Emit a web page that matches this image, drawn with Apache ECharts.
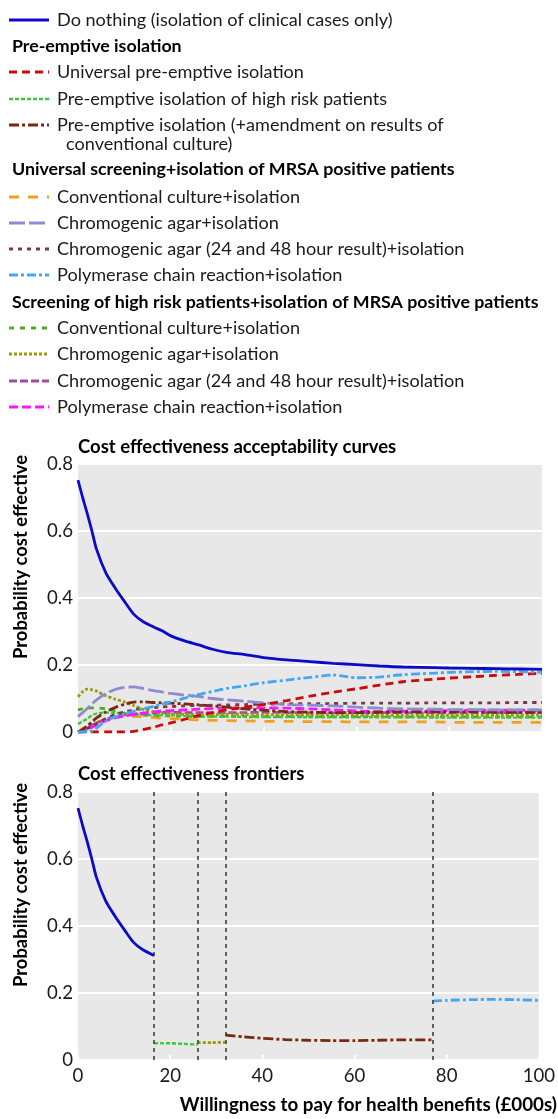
<!DOCTYPE html>
<html><head><meta charset="utf-8">
<script src="https://cdn.jsdelivr.net/npm/echarts@6.0.0/dist/echarts.min.js"></script>
<style>html,body{margin:0;padding:0;background:#fff}#c{width:558px;height:1119px}</style>
</head><body><div id="c"></div>
<script>
// Willingness to pay (£000s)
const wtp = [0,1,2,3,4,6,8,10,12,14,16.5,18,20,23,26,29,32,36,40,45,50,55,60,65,70,77,80,85,90,95,100];

const doNothing       = [0.752,0.70,0.652,0.60,0.545,0.475,0.43,0.39,0.352,0.33,0.312,0.303,0.287,0.272,0.26,0.247,0.238,0.231,0.222,0.215,0.21,0.205,0.201,0.197,0.194,0.192,0.191,0.19,0.189,0.188,0.187];
const univPreempt     = [0,0,0,0,0,0,0,0,0.002,0.007,0.015,0.021,0.027,0.038,0.049,0.058,0.066,0.074,0.082,0.094,0.107,0.119,0.129,0.14,0.15,0.158,0.161,0.165,0.169,0.172,0.175];
const highRiskPreempt = [0.024,0.032,0.04,0.05,0.055,0.058,0.057,0.055,0.053,0.052,0.05,0.05,0.05,0.048,0.046,0.046,0.046,0.045,0.045,0.045,0.044,0.044,0.044,0.044,0.044,0.043,0.043,0.043,0.043,0.043,0.043];
const amendPreempt    = [0,0.008,0.018,0.03,0.042,0.06,0.073,0.083,0.089,0.09,0.088,0.087,0.086,0.084,0.081,0.078,0.074,0.069,0.065,0.061,0.059,0.058,0.058,0.059,0.06,0.06,0.06,0.06,0.059,0.059,0.059];
const univConv        = [0,0.01,0.017,0.024,0.029,0.038,0.045,0.047,0.047,0.046,0.043,0.041,0.04,0.038,0.036,0.035,0.034,0.033,0.032,0.032,0.031,0.031,0.03,0.03,0.03,0.03,0.029,0.029,0.029,0.029,0.029];
const univChromo      = [0.046,0.058,0.07,0.084,0.096,0.114,0.127,0.133,0.135,0.13,0.123,0.12,0.115,0.11,0.106,0.1,0.096,0.092,0.087,0.082,0.08,0.078,0.074,0.071,0.069,0.068,0.067,0.067,0.066,0.066,0.066];
const univChromo2448  = [0,0.004,0.01,0.017,0.025,0.04,0.052,0.06,0.066,0.07,0.073,0.075,0.076,0.078,0.079,0.08,0.081,0.082,0.083,0.084,0.085,0.085,0.086,0.086,0.086,0.087,0.087,0.087,0.087,0.088,0.088];
const univPCR         = [0,0,0,0.003,0.012,0.033,0.045,0.054,0.062,0.069,0.077,0.083,0.09,0.101,0.112,0.121,0.13,0.138,0.147,0.155,0.163,0.17,0.162,0.164,0.171,0.176,0.178,0.18,0.181,0.18,0.178];
const hrConv          = [0.066,0.069,0.071,0.072,0.072,0.069,0.063,0.056,0.052,0.05,0.049,0.048,0.048,0.047,0.047,0.047,0.047,0.047,0.046,0.046,0.046,0.046,0.046,0.046,0.045,0.045,0.045,0.045,0.045,0.045,0.045];
const hrChromo        = [0.105,0.12,0.128,0.126,0.122,0.108,0.098,0.09,0.079,0.068,0.06,0.056,0.054,0.053,0.052,0.052,0.053,0.053,0.052,0.052,0.051,0.051,0.05,0.05,0.05,0.05,0.05,0.05,0.05,0.05,0.05];
const hrChromo2448    = [0,0.005,0.012,0.02,0.027,0.038,0.046,0.051,0.054,0.056,0.057,0.058,0.059,0.058,0.058,0.057,0.058,0.058,0.059,0.058,0.057,0.057,0.058,0.058,0.058,0.057,0.057,0.058,0.058,0.058,0.058];
const hrPCR           = [0,0,0.006,0.014,0.022,0.034,0.042,0.048,0.052,0.056,0.06,0.062,0.064,0.066,0.068,0.07,0.071,0.072,0.072,0.071,0.069,0.066,0.063,0.061,0.062,0.063,0.064,0.065,0.065,0.065,0.065];

// frontier: optimal strategy between successive thresholds
const frontierCuts = [0, 16.5, 26, 32, 77, 100];
const frontierKeys = ['doNothing','highRiskPreempt','hrChromo','amendPreempt','univPCR'];

const yTicks = [0, 0.2, 0.4, 0.6, 0.8];
const xTicks = [0, 20, 40, 60, 80, 100];

const S = {
  doNothing:      {name:'Do nothing (isolation of clinical cases only)', data:doNothing, color:'#0a0ac8', dash:'solid', w:2.8},
  univPreempt:    {name:'Universal pre-emptive isolation', data:univPreempt, color:'#cc0a0a', dash:[8,5], w:2.8},
  highRiskPreempt:{name:'Pre-emptive isolation of high risk patients', data:highRiskPreempt, color:'#3cc83c', dash:[4,2], w:2.4},
  amendPreempt:   {name:'Pre-emptive isolation (+amendment on results of', data:amendPreempt, color:'#7a2a0c', dash:[10,3,3,3], w:2.8},
  univConv:       {name:'Conventional culture+isolation', data:univConv, color:'#f0a01e', dash:[10,9], w:2.8},
  univChromo:     {name:'Chromogenic agar+isolation', data:univChromo, color:'#8c8cd2', dash:[16,4], w:2.8},
  univChromo2448: {name:'Chromogenic agar (24 and 48 hour result)+isolation', data:univChromo2448, color:'#7a3a3e', dash:[4,5], w:2.8},
  univPCR:        {name:'Polymerase chain reaction+isolation', data:univPCR, color:'#46a6f2', dash:[9,3,3,3], w:2.8},
  hrConv:         {name:'Conventional culture+isolation', data:hrConv, color:'#52a81e', dash:[5,6], w:2.8},
  hrChromo:       {name:'Chromogenic agar+isolation', data:hrChromo, color:'#9a9a0e', dash:[3,2], w:2.8},
  hrChromo2448:   {name:'Chromogenic agar (24 and 48 hour result)+isolation', data:hrChromo2448, color:'#a24aa6', dash:[8,3], w:2.8},
  hrPCR:          {name:'Polymerase chain reaction+isolation', data:hrPCR, color:'#ff14ff', dash:[9,4], w:2.8}
};

const drawOrder = ['univConv','hrConv','highRiskPreempt','hrChromo2448','hrChromo','hrPCR','amendPreempt','univChromo2448','univChromo','univPreempt','univPCR','doNothing'];

const pairs = (vals, a, b) => wtp.map((x,i)=>[x, vals[i]]).filter(p => (a===undefined || (p[0] >= a && p[0] <= b)));

const series = [];
drawOrder.forEach(k => {
  const s = S[k];
  series.push({type:'line', xAxisIndex:0, yAxisIndex:0, data:pairs(s.data), showSymbol:false, symbol:'none', smooth:0.25,
    lineStyle:{color:s.color, width:s.w, type:s.dash, cap:'butt'}, silent:true, z:3});
});
frontierKeys.forEach((k, i) => {
  const s = S[k];
  series.push({type:'line', xAxisIndex:1, yAxisIndex:1, data:pairs(s.data, frontierCuts[i], frontierCuts[i+1]), showSymbol:false, symbol:'none', smooth:0.25,
    lineStyle:{color:s.color, width:s.w, type:s.dash, cap:'butt'}, silent:true, z:3});
});
series.push({type:'line', xAxisIndex:1, yAxisIndex:1, data:[], silent:true,
  markLine:{silent:true, symbol:['none','none'], label:{show:false},
    lineStyle:{color:'#333', width:1.5, type:[4,4]},
    data:frontierCuts.slice(1,-1).map(v=>({xAxis:v}))}});

const FONT = 'Lato';
const TXT = '#1a1a1a';

// pick font sizes so that text widths match the reference
const mctx = document.createElement('canvas').getContext('2d');
function fit(text, weight, target){
  mctx.font = weight + ' 100px ' + FONT;
  return Math.round(100 * target / mctx.measureText(text).width * 10) / 10;
}
const legSize   = fit('Do nothing (isolation of clinical cases only)', 'normal', 336);
const headSize  = fit('Screening of high risk patients+isolation of MRSA positive patients', 'bold', 528);
const titleSize = fit('Cost effectiveness frontiers', 'bold', 226);
const yTitleSize= fit('Probability cost effective', 'bold', 204);
const xTitleSize= fit('Willingness to pay for health benefits (£000s)', 'bold', 377);
const tickSize  = fit('0.8', 'normal', 26);

const grids = [
  {left:78, right:16, top:464, height:268, show:true, backgroundColor:'#e8e8e8', borderWidth:0},
  {left:78, right:16, top:792, height:268, show:true, backgroundColor:'#e8e8e8', borderWidth:0}
];
const mkX = (gi, labels) => ({type:'value', gridIndex:gi, min:xTicks[0], max:xTicks[xTicks.length-1], interval:20,
  axisLine:{show:false}, splitLine:{show:false},
  axisTick:{show:true, inside:true, length:5, lineStyle:{color:'#fff', width:2}},
  axisLabel:{show:labels, fontFamily:FONT, fontSize:tickSize, color:TXT, margin:6}});
const mkY = (gi) => ({type:'value', gridIndex:gi, min:yTicks[0], max:yTicks[yTicks.length-1], interval:0.2,
  axisLine:{show:false}, axisTick:{show:false},
  splitLine:{show:true, lineStyle:{color:'#fff', width:2}},
  axisLabel:{fontFamily:FONT, fontSize:tickSize, color:TXT, margin:5, formatter:v => v===0 ? '0' : v.toFixed(1)}});

// legend layout
const graphic = [];
const lineX1 = 9, lineX2 = 49, textX = 57;
const LEG_FONT = legSize + 'px ' + FONT;
const HEAD_FONT = 'bold ' + headSize + 'px ' + FONT;
function item(key, y, text){
  const s = S[key];
  graphic.push({type:'line', shape:{x1:lineX1, y1:y, x2:lineX2, y2:y}, style:{stroke:s.color, lineWidth:s.w, lineDash:s.dash==='solid'?null:s.dash}, silent:true});
  graphic.push({type:'text', x:textX, y:y, style:{text:text||s.name, font:LEG_FONT, fill:TXT, verticalAlign:'middle'}, silent:true});
}
function head(text, y){
  graphic.push({type:'text', x:12, y:y, style:{text, font:HEAD_FONT, fill:'#000', verticalAlign:'middle'}, silent:true});
}
item('doNothing', 20);
head('Pre-emptive isolation', 46);
item('univPreempt', 72);
item('highRiskPreempt', 99);
item('amendPreempt', 125);
graphic.push({type:'text', x:66, y:144, style:{text:'conventional culture)', font:LEG_FONT, fill:TXT, verticalAlign:'middle'}, silent:true});
head('Universal screening+isolation of MRSA positive patients', 169);
item('univConv', 197);
item('univChromo', 223);
item('univChromo2448', 249);
item('univPCR', 275);
head('Screening of high risk patients+isolation of MRSA positive patients', 302);
item('hrConv', 328);
item('hrChromo', 354);
item('hrChromo2448', 381);
item('hrPCR', 407);

const TITLE_FONT = 'bold ' + titleSize + 'px ' + FONT;
const YT_FONT = 'bold ' + yTitleSize + 'px ' + FONT;
graphic.push({type:'text', x:78, y:447, style:{text:'Cost effectiveness acceptability curves', font:TITLE_FONT, fill:'#000', verticalAlign:'middle'}, silent:true});
graphic.push({type:'text', x:78, y:774, style:{text:'Cost effectiveness frontiers', font:TITLE_FONT, fill:'#000', verticalAlign:'middle'}, silent:true});
graphic.push({type:'text', x:21, y:557, rotation:Math.PI/2, style:{text:'Probability cost effective', font:YT_FONT, fill:'#000', align:'center', verticalAlign:'middle'}, silent:true});
graphic.push({type:'text', x:21, y:885, rotation:Math.PI/2, style:{text:'Probability cost effective', font:YT_FONT, fill:'#000', align:'center', verticalAlign:'middle'}, silent:true});
graphic.push({type:'text', x:557, y:1105, style:{text:'Willingness to pay for health benefits (£000s)', font:'bold ' + xTitleSize + 'px ' + FONT, fill:'#000', align:'right', verticalAlign:'middle'}, silent:true});

const chart = echarts.init(document.getElementById('c'), null, {renderer:'canvas'});
chart.setOption({
  animation:false,
  backgroundColor:'#fff',
  grid:grids,
  xAxis:[mkX(0,false), mkX(1,true)],
  yAxis:[mkY(0), mkY(1)],
  series,
  graphic
});
</script></body></html>
